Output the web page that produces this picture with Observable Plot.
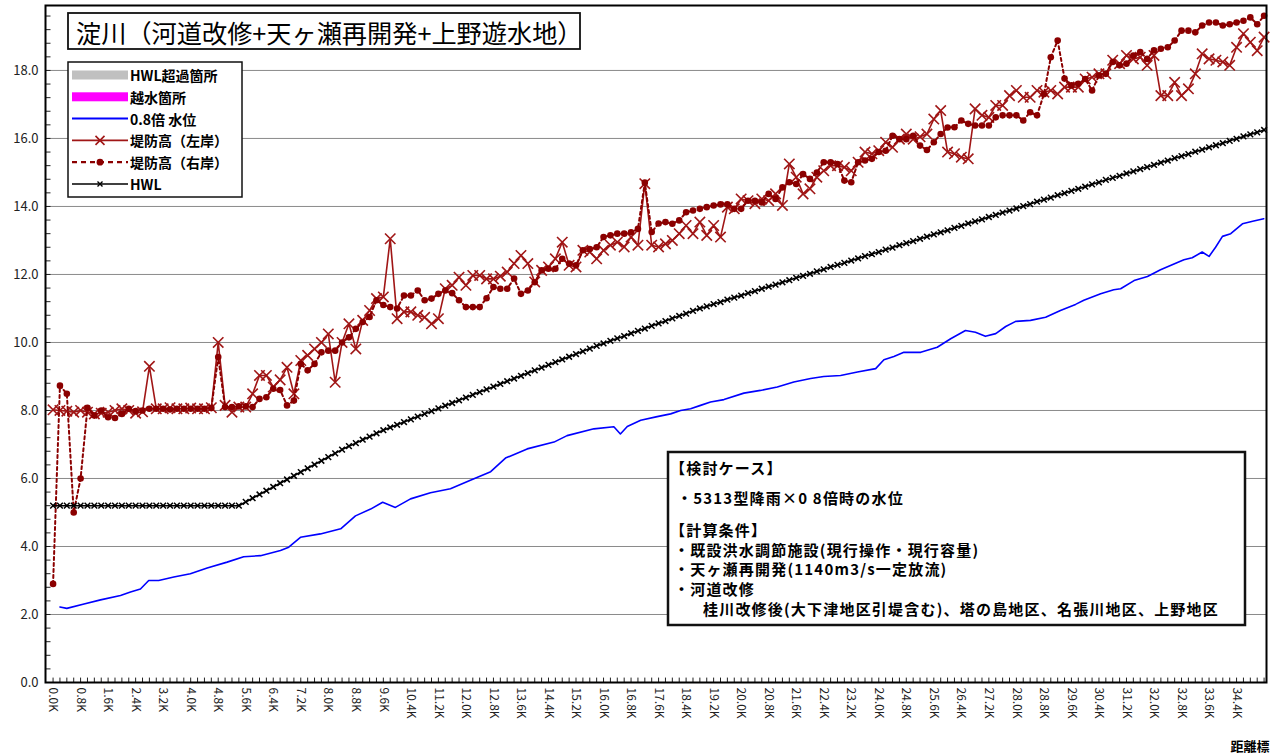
<!DOCTYPE html>
<html><head><meta charset="utf-8">
<script src="https://cdn.jsdelivr.net/npm/d3@7"></script>
<script src="https://cdn.jsdelivr.net/npm/@observablehq/plot@0.6"></script>
<style>
body{margin:0;background:#fff;}
#chart{position:relative;width:1286px;height:755px;}
</style></head><body><div id="chart"></div>
<script>
// ---- tick labels (距離標) ----
const tickLabels = ["0.0K","0.8K","1.6K","2.4K","3.2K","4.0K","4.8K","5.6K","6.4K","7.2K","8.0K","8.8K","9.6K","10.4K","11.2K","12.0K","12.8K","13.6K","14.4K","15.2K","16.0K","16.8K","17.6K","18.4K","19.2K","20.0K","20.8K","21.6K","22.4K","23.2K","24.0K","24.8K","25.6K","26.4K","27.2K","28.0K","28.8K","29.6K","30.4K","31.2K","32.0K","32.8K","33.6K","34.4K"];
const yTicks = [0,2,4,6,8,10,12,14,16,18];

// ---- 堤防高（左岸）: one value per 0.2 km category ----
const leftBank = [
8.02,8.0,7.98,7.95,8.0,7.95,7.9,7.92,7.95,8.0,
8.05,8.0,7.92,7.96,9.3,8.05,8.05,8.08,8.05,8.05,
8.07,8.05,8.05,8.08,10.0,8.15,7.95,8.1,8.1,8.49,
9.03,9.03,8.69,8.9,9.27,8.49,9.47,9.62,9.81,10.0,
10.25,8.83,10.0,10.55,9.81,10.65,10.94,11.29,11.34,13.05,
10.7,10.9,10.9,10.8,10.74,10.55,10.7,11.58,11.68,11.92,
11.68,11.97,11.97,11.87,11.87,11.95,12.07,12.32,12.56,12.32,
11.78,12.12,12.22,12.46,12.95,12.27,12.22,12.71,12.66,12.46,
12.71,12.86,12.95,12.81,13.1,12.86,14.67,12.86,12.81,12.9,
13.0,13.2,13.44,13.2,13.54,13.15,13.44,13.1,13.98,13.93,
14.22,14.17,14.08,14.22,14.17,14.37,14.03,15.25,14.86,14.37,
14.52,14.86,15.05,15.2,15.2,15.15,15.05,15.3,15.6,15.55,
15.64,15.89,15.74,15.98,16.13,15.98,16.05,16.13,16.57,16.82,
15.6,15.55,15.45,15.4,
16.87,16.68,16.62,16.97,16.97,17.26,17.41,17.21,17.21,17.41,
17.36,17.41,17.31,17.51,17.51,17.51,17.75,17.8,17.9,17.9,
18.3,18.2,18.44,18.34,18.39,18.15,18.44,17.26,17.26,17.65,
17.26,17.46,17.9,18.49,18.34,18.3,18.25,18.15,18.68,19.08,
18.83,18.58,18.98];

// ---- 堤防高（右岸） ----
const rightBank = [
2.9,8.73,8.49,5.0,6.0,8.08,7.85,8.0,7.8,7.78,
7.9,8.05,7.98,8.0,8.05,8.05,8.05,8.03,8.05,8.05,
8.05,8.05,8.05,8.07,9.57,8.1,8.1,8.12,8.12,8.1,
8.34,8.39,8.64,8.6,8.15,8.29,9.37,9.18,9.37,9.71,
9.76,9.76,10.0,10.15,10.4,10.6,10.75,11.24,11.1,11.04,
11.0,11.38,11.38,11.53,11.24,11.29,11.43,11.53,11.45,11.24,
11.04,11.04,11.04,11.3,11.63,11.58,11.58,11.88,11.43,11.53,
11.77,12.12,12.17,12.17,12.46,12.32,12.27,12.71,12.75,12.8,
13.1,13.15,13.2,13.2,13.24,13.34,14.7,13.25,13.5,13.54,
13.49,13.59,13.83,13.88,13.93,13.98,14.03,14.06,14.06,13.93,
13.93,14.17,14.17,14.12,14.37,14.22,14.56,14.71,14.66,14.95,
14.81,15.0,15.3,15.3,15.25,14.76,14.71,15.3,15.35,15.4,
15.6,15.64,16.08,15.98,15.98,16.08,15.79,15.66,15.89,16.13,
16.32,16.33,16.53,16.43,16.38,16.38,16.38,16.62,16.68,16.68,
16.68,16.53,16.77,16.68,17.3,18.39,18.88,17.76,17.56,17.61,
17.75,17.41,17.85,17.9,18.25,18.15,18.2,18.44,18.54,18.34,
18.59,18.64,18.68,18.88,19.17,19.17,19.12,19.32,19.41,19.41,
19.32,19.36,19.41,19.46,19.56,19.36,19.61];

// ---- HWL ----
const hwl = [
5.2,5.2,5.2,5.2,5.2,5.2,5.2,5.2,5.2,5.2,
5.2,5.2,5.2,5.2,5.2,5.2,5.2,5.2,5.2,5.2,
5.2,5.2,5.2,5.2,5.2,5.2,5.2,5.2,
5.31,5.42,5.53,5.64,5.75,5.86,5.97,6.08,6.19,6.30,6.41,6.52,6.63,6.74,6.85,
6.95,7.04,7.14,7.23,7.33,7.42,
7.50,7.58,7.66,7.74,7.82,7.90,7.98,8.06,8.14,8.22,8.30,8.38,8.46,8.54,8.62,8.70,
8.78,8.86,8.94,9.02,9.10,9.18,9.26,9.34,9.42,9.50,9.58,9.66,9.74,9.82,9.90,
9.97,10.05,10.12,10.19,10.27,10.34,10.41,10.49,10.56,10.63,10.71,10.78,10.85,10.93,11.00,
11.06,11.13,11.19,11.26,11.32,11.38,11.45,11.51,11.58,11.64,
11.70,11.77,11.83,11.90,11.96,12.02,12.09,12.15,12.22,12.28,
12.34,12.41,12.47,12.54,12.60,12.66,12.73,12.79,12.86,12.92,
12.98,13.05,13.11,13.18,13.24,13.30,13.37,13.43,13.50,13.56,
13.62,13.69,13.75,13.82,13.88,13.94,14.01,14.07,14.14,14.20,
14.26,14.33,14.39,14.46,14.52,14.58,14.65,14.71,14.78,14.84,
14.90,14.97,15.03,15.10,15.16,15.22,15.29,15.35,15.42,15.48,
15.54,15.61,15.67,15.74,15.80,15.86,15.93,15.99,16.06,16.12,
16.18,16.25];

// ---- 0.8倍 水位 (line vertices) ----
const blueKm = [0.2,0.4,0.9,1.38,1.96,2.25,2.54,2.78,3.07,3.51,3.99,4.48,5.06,5.54,6.03,6.61,6.85,7.19,7.77,8.36,8.79,9.23,9.58,9.95,10.39,10.97,11.55,12.13,12.72,13.15,13.78,14.56,14.94,15.72,16.3,16.49,16.69,17.08,17.56,17.95,18.24,18.53,18.82,19.11,19.5,20.08,20.56,21.05,21.53,22.02,22.4,22.89,23.38,23.91,24.15,24.44,24.73,25.22,25.7,26.09,26.52,26.81,27.1,27.4,27.69,27.98,28.41,28.85,29.28,29.72,29.96,30.45,30.83,31.03,31.42,31.81,32.19,32.58,32.87,33.11,33.4,33.6,33.79,33.99,34.23,34.57,34.9,35.19];
const blueLevel = [2.22,2.18,2.31,2.43,2.56,2.66,2.75,3.0,3.0,3.1,3.2,3.37,3.54,3.7,3.73,3.88,3.98,4.27,4.37,4.52,4.9,5.1,5.3,5.15,5.4,5.58,5.7,5.95,6.2,6.6,6.87,7.07,7.26,7.46,7.52,7.31,7.53,7.71,7.82,7.9,8.0,8.05,8.15,8.25,8.32,8.51,8.59,8.69,8.84,8.94,9.0,9.03,9.13,9.23,9.49,9.59,9.71,9.71,9.86,10.11,10.35,10.3,10.18,10.26,10.47,10.62,10.65,10.74,10.94,11.12,11.24,11.43,11.55,11.58,11.82,11.94,12.14,12.31,12.43,12.49,12.66,12.53,12.8,13.12,13.2,13.49,13.57,13.64];

// ---- build tables ----
const km = leftBank.map((_, i) => Math.round(i * 2) / 10);
const rows = km.map((k, i) => ({km: k, left: leftBank[i], right: rightBank[i], hwl: hwl[i]}));
const blue = blueKm.map((k, i) => ({km: k, level: blueLevel[i]}));
const tickKm = tickLabels.map(s => parseFloat(s));
const labelOf = new Map(tickKm.map((k, i) => [k, tickLabels[i]]));
const yMinor = d3.range(0, 19.9, 0.4).map(v => Math.round(v * 10) / 10);

const JP = "'Noto Sans CJK JP','Noto Sans',sans-serif";
const RED_L = "#a01616", RED_R = "#8b0000";
const X0 = -0.22, X1 = 35.27;

const plot = Plot.plot({
  width: 1286, height: 755,
  marginLeft: 45, marginRight: 20, marginTop: 5, marginBottom: 73,
  style: {fontFamily: JP, fontSize: "12px", background: "white", color: "#222"},
  x: {domain: [X0, X1], ticks: tickKm, tickFormat: d => labelOf.get(d), tickRotate: 90, tickSize: 0, tickPadding: 5, label: null},
  y: {domain: [0, 19.91], ticks: yTicks, tickFormat: d => d.toFixed(1), tickSize: 0, tickPadding: 7, label: null},
  marks: [
    Plot.ruleY(yTicks.filter(d => d > 0), {stroke: "#8a8a8a", strokeWidth: 1}),
    Plot.ruleX(km, {y1: 0, y2: 0.13, stroke: "#222", strokeWidth: 1}),
    Plot.ruleY(yMinor, {x1: X0, x2: X0 + 0.16, stroke: "#222", strokeWidth: 1}),
    Plot.line(blue, {x: "km", y: "level", stroke: "#0000ff", strokeWidth: 1.6}),
    Plot.line(rows, {x: "km", y: "left", stroke: RED_L, strokeWidth: 1.6}),
    Plot.dot(rows, {x: "km", y: "left", symbol: "times", r: 4.8, stroke: RED_L, strokeWidth: 1.6}),
    Plot.line(rows, {x: "km", y: "right", stroke: RED_R, strokeWidth: 2, strokeDasharray: "3,3"}),
    Plot.dot(rows, {x: "km", y: "right", r: 3.3, fill: RED_R, stroke: "none"}),
    Plot.line(rows, {x: "km", y: "hwl", stroke: "#000", strokeWidth: 1.6}),
    Plot.dot(rows, {x: "km", y: "hwl", symbol: "times", r: 2.7, stroke: "#000", strokeWidth: 1.5}),
    Plot.frame({stroke: "#000", strokeWidth: 2})
  ]
});
document.getElementById("chart").appendChild(plot);

const svg = d3.select(plot);
svg.selectAll('[aria-label="y-axis tick label"] text').attr("font-size", 13);
const g = svg.append("g").attr("font-family", JP).attr("fill", "#000").attr("text-anchor", "start");

// title
g.append("rect").attr("x", 68).attr("y", 13).attr("width", 512).attr("height", 36)
  .attr("fill", "#fff").attr("stroke", "#111").attr("stroke-width", 1.8);
g.append("text").attr("x", 76).attr("y", 32).attr("dominant-baseline", "central")
  .attr("font-size", 25.2).text("淀川（河道改修+天ヶ瀬再開発+上野遊水地）");

// legend
g.append("rect").attr("x", 68).attr("y", 62).attr("width", 174).attr("height", 135)
  .attr("fill", "#fff").attr("stroke", "#111").attr("stroke-width", 1.5);
const legendItems = ["HWL超過箇所", "越水箇所", "0.8倍 水位", "堤防高（左岸）", "堤防高（右岸）", "HWL"];
const ly = i => 75 + i * 21.8;
const lx0 = 72, lx1 = 128, lxm = 100;
g.append("rect").attr("x", lx0).attr("y", ly(0) - 4.5).attr("width", lx1 - lx0).attr("height", 9).attr("fill", "#c0c0c0");
g.append("rect").attr("x", lx0).attr("y", ly(1) - 4.5).attr("width", lx1 - lx0).attr("height", 9).attr("fill", "#ff00ff");
g.append("line").attr("x1", lx0).attr("x2", lx1).attr("y1", ly(2)).attr("y2", ly(2)).attr("stroke", "#0000ff").attr("stroke-width", 2);
g.append("line").attr("x1", lx0).attr("x2", lx1).attr("y1", ly(3)).attr("y2", ly(3)).attr("stroke", RED_L).attr("stroke-width", 1.6);
g.append("path").attr("d", `M${lxm-4.5},${ly(3)-4.5}L${lxm+4.5},${ly(3)+4.5}M${lxm-4.5},${ly(3)+4.5}L${lxm+4.5},${ly(3)-4.5}`).attr("stroke", RED_L).attr("stroke-width", 1.6);
g.append("line").attr("x1", lx0).attr("x2", lx1).attr("y1", ly(4)).attr("y2", ly(4)).attr("stroke", RED_R).attr("stroke-width", 2.2).attr("stroke-dasharray", "5,4");
g.append("circle").attr("cx", lxm).attr("cy", ly(4)).attr("r", 3.4).attr("fill", RED_R);
g.append("line").attr("x1", lx0).attr("x2", lx1).attr("y1", ly(5)).attr("y2", ly(5)).attr("stroke", "#000").attr("stroke-width", 1.5);
g.append("path").attr("d", `M${lxm-2.5},${ly(5)-2.5}L${lxm+2.5},${ly(5)+2.5}M${lxm-2.5},${ly(5)+2.5}L${lxm+2.5},${ly(5)-2.5}`).attr("stroke", "#000").attr("stroke-width", 1.4);
legendItems.forEach((t, i) => {
  g.append("text").attr("x", 130).attr("y", ly(i)).attr("dominant-baseline", "central")
    .attr("font-size", 14).attr("font-weight", "bold").text(t);
});

// annotation box
g.append("rect").attr("x", 668).attr("y", 452).attr("width", 577).attr("height", 173)
  .attr("fill", "#fff").attr("stroke", "#111").attr("stroke-width", 2.5);
const notes = [
  {t: "【検討ケース】", x: 670, y: 467},
  {t: "・5313型降雨×0 8倍時の水位", x: 677, y: 497},
  {t: "【計算条件】", x: 670, y: 529},
  {t: "・既設洪水調節施設(現行操作・現行容量)", x: 674, y: 549},
  {t: "・天ヶ瀬再開発(1140m3/s一定放流)", x: 674, y: 568},
  {t: "・河道改修", x: 674, y: 588},
  {t: "桂川改修後(大下津地区引堤含む)、塔の島地区、名張川地区、上野地区", x: 703, y: 608}
];
notes.forEach(n => {
  g.append("text").attr("x", n.x).attr("y", n.y).attr("dominant-baseline", "central")
    .attr("font-size", 15).attr("font-weight", "bold").attr("letter-spacing", "1.2px").text(n.t);
});

// axis title
g.append("text").attr("x", 1250).attr("y", 745).attr("text-anchor", "middle").attr("dominant-baseline", "central")
  .attr("font-size", 13).attr("font-weight", "bold").text("距離標");
</script></body></html>
